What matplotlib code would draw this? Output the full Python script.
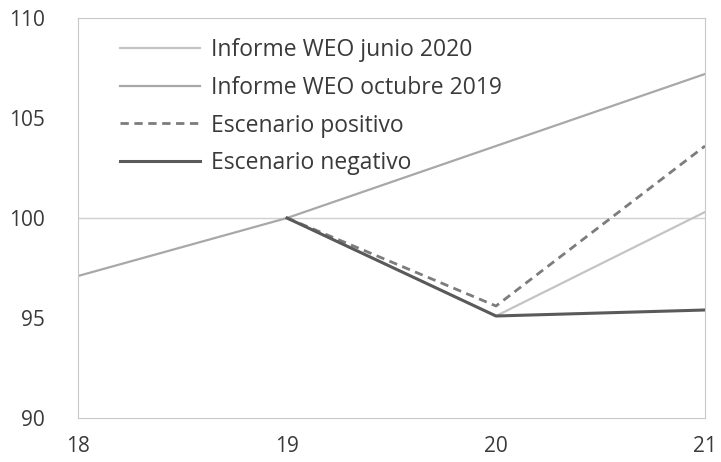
import matplotlib.pyplot as plt

# Data
years = [18, 19, 20, 21]
weo_oct_2019 = [97.1, 100.0, 103.6, 107.2]
weo_jun_2020_x = [19, 20, 21]
weo_jun_2020 = [100.0, 95.1, 100.3]
positivo_x = [19, 20, 21]
positivo = [100.0, 95.6, 103.6]
negativo_x = [19, 20, 21]
negativo = [100.0, 95.1, 95.4]

plt.rcParams['font.family'] = ['Open Sans', 'DejaVu Sans']

fig = plt.figure(figsize=(7.21, 4.62), dpi=100)
ax = fig.add_axes([78 / 721, 1 - 418 / 462, (705 - 78) / 721, 400 / 462])

ax.axhline(100, color='#d0d0d0', lw=1, zorder=1)

ax.plot(weo_jun_2020_x, weo_jun_2020, color='#c4c4c4', lw=1.6, label='Informe WEO junio 2020', zorder=3)
ax.plot(years, weo_oct_2019, color='#a8a8a8', lw=1.6, label='Informe WEO octubre 2019', zorder=2)
ax.plot(positivo_x, positivo, color='#7c7c7c', lw=2, ls=(0, (3, 2)), label='Escenario positivo', zorder=4)
ax.plot(negativo_x, negativo, color='#5a5a5a', lw=2.2, label='Escenario negativo', zorder=5)

ax.set_xlim(18, 21)
ax.set_ylim(90, 110)
ax.set_xticks(years)
ax.set_yticks([90, 95, 100, 105, 110])

for s in ax.spines.values():
    s.set_color('#c8c8c8')
    s.set_linewidth(0.8)
ax.tick_params(axis='both', length=0, labelsize=15, labelcolor='#3a3a3a')
ax.tick_params(axis='y', pad=24)
ax.tick_params(axis='x', pad=13)

leg = ax.legend(loc='upper left', bbox_to_anchor=(0.067, 0.95), frameon=False,
                borderaxespad=0, borderpad=0,
                fontsize=16.5, handlelength=3.5, handletextpad=0.45, labelspacing=0.6)
for t in leg.get_texts():
    t.set_color('#3a3a3a')

fig.savefig('out.png', dpi=100)
